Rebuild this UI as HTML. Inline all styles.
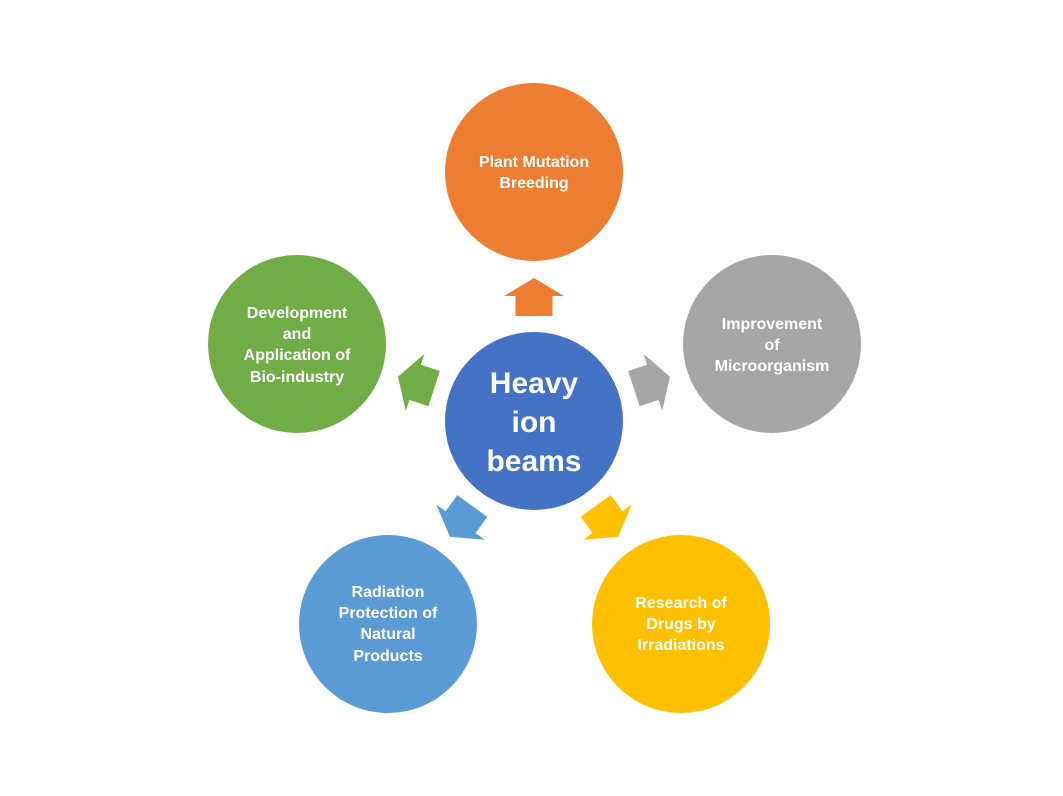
<!DOCTYPE html>
<html><head><style>
body{margin:0;background:#fff;}
svg text{font-family:"Liberation Sans",sans-serif;font-weight:bold;fill:#fff;text-anchor:middle;}
</style></head><body>
<svg width="1063" height="791" viewBox="0 0 1063 791">
<g transform="translate(534,421)">
<g id="a"><polygon points="0,-143 30,-125 18.5,-125 18.5,-105 -18.5,-105 -18.5,-125 -30,-125" fill="#ED7D31"/></g>
<polygon transform="rotate(72)" points="0,-143 30,-125 18.5,-125 18.5,-105 -18.5,-105 -18.5,-125 -30,-125" fill="#A5A5A5"/>
<polygon transform="rotate(144)" points="0,-143 30,-125 18.5,-125 18.5,-105 -18.5,-105 -18.5,-125 -30,-125" fill="#FFC000"/>
<polygon transform="rotate(216)" points="0,-143 30,-125 18.5,-125 18.5,-105 -18.5,-105 -18.5,-125 -30,-125" fill="#5B9BD5"/>
<polygon transform="rotate(288)" points="0,-143 30,-125 18.5,-125 18.5,-105 -18.5,-105 -18.5,-125 -30,-125" fill="#70AD47"/>
</g>
<circle cx="534" cy="421" r="89" fill="#4472C4"/>
<circle cx="534" cy="172" r="89" fill="#ED7D31"/>
<circle cx="772" cy="344" r="89" fill="#A5A5A5"/>
<circle cx="681" cy="624" r="89" fill="#FFC000"/>
<circle cx="388" cy="624" r="89" fill="#5B9BD5"/>
<circle cx="297" cy="344" r="89" fill="#70AD47"/>
<g font-size="30"><text x="534" y="393">Heavy</text><text x="534" y="432">ion</text><text x="534" y="471">beams</text></g>
<g font-size="16">
<text x="534" y="167">Plant Mutation</text><text x="534" y="188">Breeding</text>
<text x="772" y="329">Improvement</text><text x="772" y="350">of</text><text x="772" y="371">Microorganism</text>
<text x="681" y="608">Research of</text><text x="681" y="629">Drugs by</text><text x="681" y="650">Irradiations</text>
<text x="388" y="597">Radiation</text><text x="388" y="618">Protection of</text><text x="388" y="639">Natural</text><text x="388" y="661">Products</text>
<text x="297" y="318">Development</text><text x="297" y="339">and</text><text x="297" y="360">Application of</text><text x="297" y="382">Bio-industry</text>
</g>
</svg>
</body></html>
